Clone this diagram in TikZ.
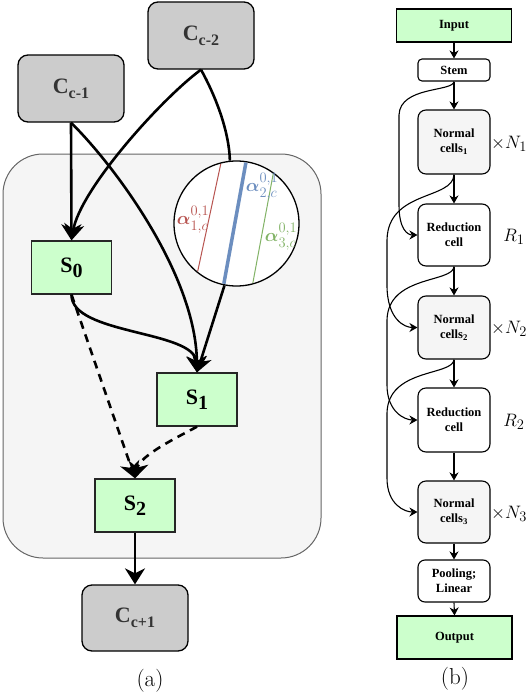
\documentclass[tikz,border=0pt]{standalone}
\usepackage{fix-cm}
\usepackage{amsmath,bm}
\usepackage{fontspec}
\newfontfamily\tnr{Liberation Serif}
\usetikzlibrary{arrows.meta}
\DeclareMathSizes{18}{18}{14.5}{11}
\definecolor{cellgray}{HTML}{CCCCCC}
\definecolor{ctext}{HTML}{333333}
\definecolor{cgreen}{HTML}{CCFFCC}
\definecolor{cpanel}{HTML}{F5F5F5}
\definecolor{cpanelline}{HTML}{666666}
\definecolor{ared}{HTML}{B85450}
\definecolor{ablue}{HTML}{6C8EBF}
\definecolor{agreen}{HTML}{82B366}
\newcommand\csub[1]{\raisebox{-5pt}{\fontsize{16}{16}\selectfont #1}}
\newcommand\ssub[1]{\raisebox{-5pt}{\fontsize{20}{20}\selectfont #1}}
\begin{document}
\begin{tikzpicture}[x=1pt,y=-1pt,
  cbox/.style={draw=black, line width=1.3pt, fill=cellgray, rounded corners=10pt,
    minimum width=106pt, minimum height=67pt, inner sep=0pt, text=ctext,
    font=\tnr\bfseries\fontsize{22}{26}\selectfont},
  sbox/.style={draw=black!85, line width=1.3pt, fill=cgreen,
    minimum width=80pt, minimum height=53pt, inner sep=0pt,
    font=\tnr\bfseries\fontsize{22}{26}\selectfont},
  container/.style={draw=cpanelline, line width=1pt, fill=cpanel, rounded corners=40pt,
    minimum width=318pt, minimum height=404pt, inner sep=0pt},
  conn/.style={line width=2.6pt, -{Stealth[length=16pt,width=20pt,inset=5pt]}},
  plainline/.style={line width=2.6pt},
  dconn/.style={line width=2.6pt, dash pattern=on 8pt off 6pt, -{Stealth[length=16pt,width=20pt,inset=5pt]}},
  bbox/.style={draw=black, line width=1.1pt, fill=white, rounded corners=8pt,
    minimum width=72pt, inner sep=0pt, align=center,
    font=\tnr\bfseries\fontsize{12.5}{15}\selectfont},
  gbox/.style={draw=black, line width=1.1pt, fill=cgreen,
    minimum width=115pt, minimum height=33pt, inner sep=0pt,
    font=\tnr\bfseries\fontsize{12.5}{15}\selectfont},
  sconn/.style={line width=1.1pt, -{Stealth[length=8pt,width=9pt,inset=2.5pt]}},
  mlabel/.style={inner sep=0pt, font=\fontsize{18}{21}\selectfont},
  alabel/.style={inner sep=0pt, font=\fontsize{18}{21}\selectfont},
  caplabel/.style={inner sep=0pt, font=\fontsize{23}{27}\selectfont}
]
\useasboundingbox (0,0) rectangle (528,696);

% ---------- panel (a) ----------
\node[container] (panel) at (162,356) {};
\node[cbox] (c2) at (201,35.5) {C\csub{c-2}};
\node[cbox] (c1) at (71,88.5) {C\csub{c-1}};
\node[sbox] (s0) at (71.5,267.5) {S\ssub{0}};
\node[sbox] (s1) at (197,399.5) {S\ssub{1}};
\node[sbox] (s2) at (135,505.5) {S\ssub{2}};
\node[cbox, minimum height=66pt] (c3) at (135,618) {C\csub{c+1}};

\node[circle, draw=black, line width=1.3pt, fill=white, minimum size=125pt, inner sep=0pt] (circ) at (236.5,223.5) {};
\begin{scope}
  \clip (circ.center) circle (61.6pt);
  \draw[ared, line width=1pt] (225.9,140) -- (192.6,295);
  \draw[ablue, line width=3.5pt] (250,140) -- (221.8,295);
  \draw[agreen, line width=1pt] (279.5,140) -- (250.6,295);
\end{scope}
\node[alabel, text=ared] (la1) at (193,220) {$\bm{\alpha}^{0,1}_{1,c}$};
\node[alabel, text=ablue] (la2) at (262,187) {$\bm{\alpha}^{0,1}_{2,c}$};
\node[alabel, text=agreen] (la3) at (281,237) {$\bm{\alpha}^{0,1}_{3,c}$};

\draw[conn] (c1.south) -- (s0.north);
\draw[conn] (c1.south) .. controls (115,166) and (196,275) .. (s1.north);
\draw[conn] (c2.south) .. controls (160,100) and (80,190) .. (s0.north);
\draw[plainline] (c2.south) .. controls (215,95) and (229,130) .. (circ.96);
\draw[conn] (circ.259) -- (s1.north);
\draw[conn] (s0.south) .. controls (71,335) and (195,330) .. (s1.north);
\draw[dconn] (s0.south) -- (s2.north);
\draw[dconn] (s1.south) .. controls (180,436) and (140,455) .. (s2.north);
\draw[conn] (s2.south) -- (c3.north);

\node[caplabel] (capa) at (150,681) {(a)};

% ---------- panel (b) ----------
\node[gbox] (in) at (454,25.5) {Input};
\node[bbox, rounded corners=4pt, minimum height=22pt] (stem) at (454,70) {Stem};
\node[bbox, fill=cpanel, minimum height=64pt] (n1) at (454,142) {Normal\\cells\textsubscript{1}};
\node[bbox, minimum height=62pt] (r1) at (454,235) {Reduction\\cell};
\node[bbox, fill=cpanel, minimum height=63pt] (n2) at (454,327.5) {Normal\\cells\textsubscript{2}};
\node[bbox, minimum height=64pt] (r2) at (454,420) {Reduction\\cell};
\node[bbox, fill=cpanel, minimum height=62pt] (n3) at (454,512) {Normal\\cells\textsubscript{3}};
\node[bbox, rounded corners=7pt, minimum height=42pt] (pool) at (454,581) {Pooling;\\Linear};
\node[gbox, minimum height=43pt] (out) at (454.5,637.5) {Output};

\node[mlabel, anchor=west] (xn1) at (491,144) {$\times N_1$};
\node[mlabel] (lr1) at (514,237) {$R_1$};
\node[mlabel, anchor=west] (xn2) at (491,329) {$\times N_2$};
\node[mlabel] (lr2) at (514,422) {$R_2$};
\node[mlabel, anchor=west] (xn3) at (491,514) {$\times N_3$};

\draw[sconn] (in.south) -- (stem.north);
\draw[sconn] (stem.south) -- (n1.north);
\draw[sconn] (n1.south) -- (r1.north);
\draw[sconn] (r1.south) -- (n2.north);
\draw[sconn] (n2.south) -- (r2.north);
\draw[sconn] (r2.south) -- (n3.north);
\draw[sconn] (n3.south) -- (pool.north);
\draw[sconn] (pool.south) -- (out.north);

\draw[sconn] (stem.south) .. controls (453,92) and (400,86) .. (399,115) -- (399,205) .. controls (399,230) and (408,235) .. (r1.west);
\draw[sconn] (n1.south) .. controls (453,200) and (388,190) .. (387,240) -- (387,285) .. controls (387,320) and (405,327.5) .. (n2.west);
\draw[sconn] (r1.south) .. controls (453,283) and (388,275) .. (387,320) -- (387,385) .. controls (387,412) and (405,420) .. (r2.west);
\draw[sconn] (n2.south) .. controls (453,376) and (388,368) .. (387,413) -- (387,478) .. controls (387,505) and (405,512) .. (n3.west);

\node[caplabel] (capb) at (455,679) {(b)};
\end{tikzpicture}
\end{document}
